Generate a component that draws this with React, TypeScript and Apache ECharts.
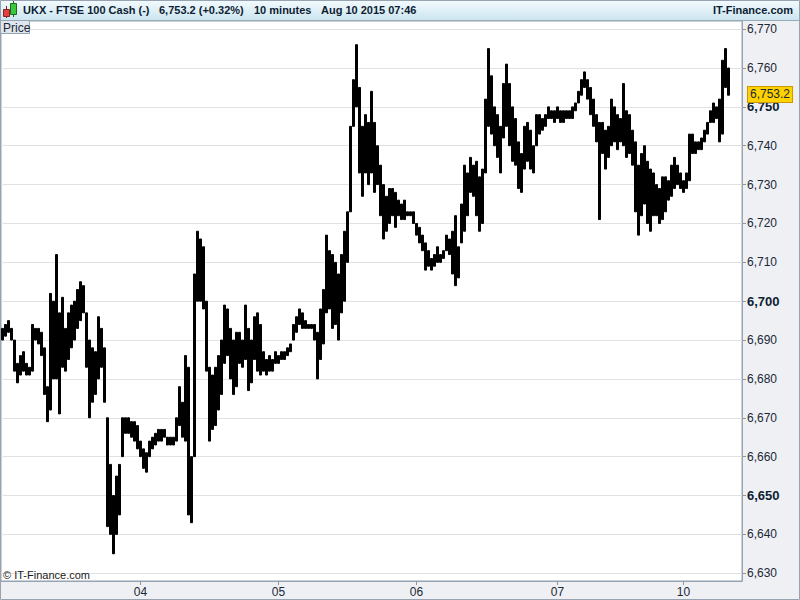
import React, { useEffect, useRef } from 'react';
import * as echarts from 'echarts';

const FONT = '"Liberation Sans", Arial, sans-serif';

// 30-minute-ish bars: lows and highs
const lows = [
  6690, 6691, 6692, 6690, 6682, 6679, 6681, 6682, 6681, 6681,
  6682, 6690, 6689, 6686, 6676, 6669, 6672, 6680, 6680, 6671,
  6683, 6682, 6685, 6688, 6690, 6693, 6695, 6697, 6683, 6670,
  6674, 6676, 6680, 6683, 6674, 6642, 6640, 6635, 6640, 6645,
  6660, 6666, 6666, 6665, 6664, 6662, 6660, 6657, 6656, 6660,
  6662, 6663, 6664, 6664, 6665, 6663, 6663, 6663, 6664, 6668,
  6665, 6664, 6645, 6643, 6660, 6700, 6700, 6698, 6682, 6664,
  6667, 6668, 6672, 6676, 6684, 6686, 6680, 6676, 6678, 6684,
  6683, 6685, 6677, 6679, 6685, 6682, 6681, 6682, 6681, 6682,
  6682, 6684, 6684, 6685, 6685, 6686, 6687, 6690, 6692, 6694,
  6693, 6693, 6693, 6693, 6690, 6680, 6685, 6689, 6697, 6698,
  6693, 6694, 6690, 6697, 6700, 6710, 6723, 6745, 6750, 6733,
  6727, 6733, 6730, 6733, 6728, 6730, 6722, 6716, 6718, 6720,
  6722, 6719, 6722, 6721, 6721, 6722, 6722, 6720, 6717, 6715,
  6713, 6708, 6709, 6708, 6709, 6710, 6710, 6711, 6713, 6712,
  6707, 6704, 6706, 6715, 6718, 6722, 6728, 6727, 6722, 6718,
  6720, 6733, 6745, 6743, 6740, 6737, 6733, 6742, 6745, 6740,
  6736, 6735, 6729, 6728, 6734, 6736, 6734, 6733, 6740, 6743,
  6744, 6745, 6747, 6747, 6746, 6747, 6746, 6746, 6747, 6747,
  6747, 6749, 6751, 6753, 6755, 6752, 6748, 6745, 6741, 6721,
  6738, 6734, 6737, 6740, 6741, 6739, 6741, 6740, 6737, 6738,
  6735, 6723, 6717, 6722, 6725, 6720, 6718, 6722, 6722, 6720,
  6721, 6723, 6726, 6727, 6729, 6730, 6729, 6728, 6729, 6731,
  6738, 6738, 6739, 6739, 6741, 6743, 6746, 6746, 6747, 6741,
  6743, 6755, 6753,
];

const highs = [
  6693, 6694, 6695, 6693, 6690, 6684, 6686, 6687, 6684, 6683,
  6694, 6693, 6693, 6692, 6688, 6678, 6702, 6700, 6712, 6697,
  6701, 6693, 6697, 6699, 6700, 6703, 6705, 6704, 6697, 6690,
  6688, 6687, 6696, 6693, 6688, 6670, 6658, 6650, 6655, 6658,
  6670, 6670, 6670, 6669, 6669, 6668, 6664, 6662, 6661, 6664,
  6665, 6666, 6667, 6667, 6667, 6665, 6665, 6665, 6670, 6678,
  6674, 6686, 6683, 6660, 6707, 6718, 6716, 6714, 6700, 6683,
  6681, 6683, 6686, 6690, 6699, 6698, 6693, 6690, 6692, 6692,
  6690, 6699, 6693, 6690, 6696, 6697, 6694, 6687, 6685, 6686,
  6685, 6687, 6686, 6687, 6687, 6688, 6689, 6694, 6696, 6698,
  6697, 6695, 6694, 6694, 6694, 6692, 6698, 6703, 6717, 6713,
  6712, 6710, 6707, 6712, 6718, 6723, 6745, 6757, 6766, 6755,
  6745, 6748, 6746, 6754, 6746, 6740, 6735, 6730, 6727, 6729,
  6729, 6728, 6726, 6725, 6726, 6723, 6723, 6723, 6720, 6719,
  6717, 6715, 6713, 6711, 6712, 6714, 6712, 6713, 6717, 6716,
  6718, 6722, 6714, 6725, 6735, 6733, 6737, 6735, 6736, 6732,
  6734, 6752, 6765, 6758, 6750, 6748, 6745, 6756, 6761, 6756,
  6750, 6747, 6741, 6738, 6745, 6746, 6744, 6740, 6748, 6748,
  6747, 6748, 6750, 6749, 6749, 6750, 6749, 6749, 6749, 6749,
  6750, 6751, 6754, 6757, 6759, 6757, 6755, 6752, 6748, 6746,
  6746, 6744, 6745, 6752, 6750, 6748, 6747, 6756, 6749, 6748,
  6744, 6741, 6735, 6738, 6740, 6736, 6734, 6733, 6730, 6729,
  6732, 6732, 6731, 6735, 6737, 6735, 6733, 6731, 6733, 6743,
  6743, 6741, 6741, 6742, 6744, 6746, 6749, 6751, 6750, 6752,
  6762, 6765, 6760,
];

const slotCount = 247;
const dayTickIndex = [46, 92, 138, 185, 227];
const dayLabels = ['04', '05', '06', '07', '10'];
const yTicks = [6630, 6640, 6650, 6660, 6670, 6680, 6690, 6700, 6710, 6720, 6730, 6740, 6750, 6760, 6770];
const yMin = 6628;
const yMax = 6772.1;
const lastPrice = 6753.2;
const lastPriceText = '6,753.2';

const fmt = (v: number) => Math.round(v).toLocaleString('en-US');

export default function App() {
  const ref = useRef<HTMLDivElement>(null);

  useEffect(() => {
    const chart = echarts.init(ref.current!, null, { renderer: 'svg' });
    const categories = Array.from({ length: slotCount }, (_, i) => String(i));
    const candles = lows.map((l, i) => [l, highs[i], l, highs[i]]);
    const isDay = (idx: number) => dayTickIndex.indexOf(idx) >= 0;

    const titleStyle = { fontFamily: FONT, fontSize: 11, fontWeight: 'bold', fill: '#0d1d33' };

    chart.setOption({
      animation: false,
      backgroundColor: '#eef0f3',
      grid: {
        left: 1,
        right: 58,
        top: 21,
        bottom: 19,
        show: true,
        backgroundColor: '#ffffff',
        borderColor: '#97a3b0',
        borderWidth: 1,
      },
      xAxis: {
        type: 'category',
        data: categories,
        boundaryGap: true,
        axisLine: { show: true, lineStyle: { color: '#97a3b0' } },
        axisTick: {
          show: true,
          alignWithLabel: true,
          interval: (idx: number) => isDay(idx),
          length: 4,
          lineStyle: { color: '#8c98a5' },
        },
        axisLabel: {
          interval: (idx: number) => isDay(idx),
          formatter: (_v: string, idx: number) => {
            const k = dayTickIndex.indexOf(idx);
            return k >= 0 ? dayLabels[k] : '';
          },
          fontFamily: FONT,
          fontSize: 12,
          color: '#1b2838',
          margin: 5,
        },
        splitLine: { show: false },
      },
      yAxis: {
        type: 'value',
        position: 'right',
        min: yMin,
        max: yMax,
        axisLine: { show: true, lineStyle: { color: '#97a3b0' } },
        axisTick: { show: true, length: 4, customValues: yTicks, lineStyle: { color: '#8c98a5' } },
        axisLabel: {
          customValues: yTicks,
          fontFamily: FONT,
          fontSize: 12,
          color: '#1b2838',
          margin: 5,
          formatter: (v: number) => (v % 50 === 0 ? `{b|${fmt(v)}}` : fmt(v)),
          rich: { b: { fontFamily: FONT, fontSize: 13, fontWeight: 'bold', color: '#0d1d33' } },
        },
        splitLine: { show: true, lineStyle: { color: '#e2e2e2', width: 1 } },
      },
      series: [
        {
          type: 'candlestick',
          data: candles,
          barWidth: 3,
          barMaxWidth: 4,
          itemStyle: {
            color: '#000000',
            color0: '#000000',
            borderColor: '#000000',
            borderColor0: '#000000',
            borderWidth: 1,
          },
          markLine: {
            silent: true,
            symbol: 'none',
            lineStyle: { color: 'transparent', width: 0 },
            label: {
              show: true,
              position: 'end',
              distance: 6,
              formatter: lastPriceText,
              fontFamily: FONT,
              fontSize: 12,
              color: '#1b2838',
              backgroundColor: '#ffd200',
              borderColor: '#c99a00',
              borderWidth: 1,
              padding: [2, 2, 1, 2],
            },
            data: [{ yAxis: lastPrice }],
          },
        },
      ],
      graphic: [
        {
          type: 'rect',
          shape: { x: 0, y: 0, width: 800, height: 20 },
          style: {
            fill: new echarts.graphic.LinearGradient(0, 0, 0, 1, [
              { offset: 0, color: '#f3fbfe' },
              { offset: 1, color: '#cde5f0' },
            ]),
          },
          z: 10,
        },
        { type: 'line', shape: { x1: 0, y1: 20.5, x2: 800, y2: 20.5 }, style: { stroke: '#9aabb8', lineWidth: 1 }, z: 11 },
        // candle icon
        { type: 'line', shape: { x1: 6.5, y1: 6, x2: 6.5, y2: 18 }, style: { stroke: '#7a1e1e', lineWidth: 1 }, z: 11 },
        { type: 'rect', shape: { x: 3.5, y: 9.5, width: 6, height: 7 }, style: { fill: '#e04040', stroke: '#8a2020', lineWidth: 1 }, z: 12 },
        { type: 'line', shape: { x1: 13.5, y1: 1, x2: 13.5, y2: 17 }, style: { stroke: '#1d6a1d', lineWidth: 1 }, z: 11 },
        { type: 'rect', shape: { x: 10.5, y: 3.5, width: 6, height: 11 }, style: { fill: '#3cc83c', stroke: '#1d6a1d', lineWidth: 1 }, z: 12 },
        { type: 'text', x: 23, y: 10, style: { ...titleStyle, text: 'UKX - FTSE 100 Cash (-)', verticalAlign: 'middle' }, z: 12 },
        { type: 'text', x: 159, y: 10, style: { ...titleStyle, text: '6,753.2 (+0.32%)', verticalAlign: 'middle' }, z: 12 },
        { type: 'text', x: 254, y: 10, style: { ...titleStyle, text: '10 minutes', verticalAlign: 'middle' }, z: 12 },
        { type: 'text', x: 321, y: 10, style: { ...titleStyle, text: 'Aug 10 2015 07:46', verticalAlign: 'middle' }, z: 12 },
        { type: 'text', x: 793, y: 10, style: { ...titleStyle, text: 'IT-Finance.com', align: 'right', verticalAlign: 'middle' }, z: 12 },
        // Price tab
        { type: 'rect', shape: { x: 0.5, y: 20.5, width: 29, height: 13 }, style: { fill: '#dfe6ed', stroke: '#97a3b0', lineWidth: 1 }, z: 12 },
        { type: 'text', x: 3, y: 27.5, style: { text: 'Price', fontFamily: FONT, fontSize: 12, fill: '#1b2838', verticalAlign: 'middle' }, z: 13 },
        // copyright
        { type: 'text', x: 3, y: 575, style: { text: '© IT-Finance.com', fontFamily: FONT, fontSize: 11, fill: '#1a1a1a', verticalAlign: 'middle' }, z: 12 },
        // outer border
        { type: 'rect', shape: { x: 0.5, y: 0.5, width: 799, height: 599 }, style: { fill: 'none', stroke: '#97a3b0', lineWidth: 1 }, z: 14 },
      ],
    });

    return () => chart.dispose();
  }, []);

  return <div ref={ref} style={{ position: 'fixed', left: 0, top: 0, width: 800, height: 600 }} />;
}
